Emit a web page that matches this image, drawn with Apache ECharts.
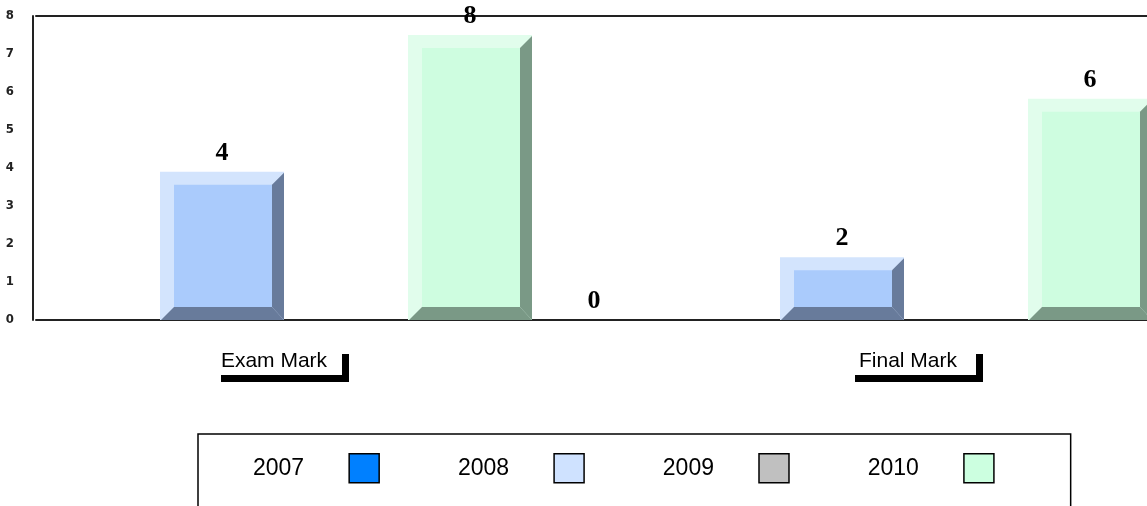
<!DOCTYPE html>
<html><head><meta charset="utf-8">
<script src="https://cdn.jsdelivr.net/npm/echarts@6/dist/echarts.min.js"></script>
<style>html,body{margin:0;padding:0;background:#fff}#c{width:1147px;height:506px}</style>
</head><body><div id="c"></div>
<script>
// ---- data ----
const categories = ['Exam Mark', 'Final Mark'];
const seriesNames = ['2007', '2008', '2009', '2010'];
const v2007 = [null, null];
const v2008 = [3.9, 1.65];
const v2009 = [null, null];
const v2010 = [7.5, 5.82];
const vExtra = [0, 0];          // unnamed fifth slot showing the "0" label
const yTicks = [0, 1, 2, 3, 4, 5, 6, 7, 8];

// ---- styles ----
const legendColors = ['#0080ff', '#cfe2ff', '#c0c0c0', '#ccffe0'];
const bevel = [
  { light: '#80bfff', face: '#0080ff', dark: '#004c99' },
  { light: '#d3e4fd', face: '#aacbfc', dark: '#687b9b' },
  { light: '#e0e0e0', face: '#c0c0c0', dark: '#7a7a7a' },
  { light: '#e1fdec', face: '#cefde0', dark: '#7a9986' }
];
const NSLOTS = 5;

function makeRender(s) {
  return function (params, api) {
    const v = api.value(1);
    if (v === null || v === undefined || isNaN(v)) return;
    const ci = api.value(0);
    const base = api.coord([ci, 0]);
    const band = api.size([1, 0])[0];
    const slot = band / NSLOTS;
    const x0 = base[0] - band / 2 + s * slot, x1 = x0 + slot;
    const yB = base[1], yT = api.coord([ci, v])[1];
    const children = [];
    if (v > 0 && bevel[s]) {
      const c = bevel[s];
      const L = 14, R = 12, T = 13, B = 13;
      children.push({ type: 'rect', shape: { x: x0, y: yT, width: slot, height: yB - yT }, style: { fill: c.light } });
      children.push({ type: 'rect', shape: { x: x0 + L, y: yT + T, width: slot - L - R, height: yB - yT - T - B }, style: { fill: c.face } });
      children.push({ type: 'polygon', shape: { points: [[x1 - R, yT + T], [x1, yT + 1], [x1, yB], [x1 - R, yB - B]] }, style: { fill: c.dark } });
      children.push({ type: 'polygon', shape: { points: [[x0 + L, yB - B], [x1 - R, yB - B], [x1, yB], [x0 + 1, yB]] }, style: { fill: c.dark } });
    }
    children.push({
      type: 'text', z2: 10,
      style: { text: String(Math.round(v)), x: (x0 + x1) / 2, y: yT - 19, align: 'center', verticalAlign: 'middle',
        font: 'bold 26px "Liberation Serif", "Times New Roman", serif', fill: '#000' }
    });
    return { type: 'group', children: children };
  };
}

const allValues = [v2007, v2008, v2009, v2010, vExtra];
const allNames = seriesNames.concat(['extra']);
const series = allValues.map(function (vals, s) {
  return {
    type: 'custom', name: allNames[s], xAxisIndex: 0, yAxisIndex: 0,
    renderItem: makeRender(s),
    itemStyle: { color: legendColors[s] || '#000' },
    data: vals.map(function (v, i) { return [i, v]; }),
    z: 3
  };
});

const labelBox = { fontFamily: 'Liberation Sans, Arial, sans-serif', fontSize: 21, color: '#000', width: 108, align: 'center',
  backgroundColor: '#fff', padding: [4, 14, 3, 6],
  shadowColor: '#000', shadowOffsetX: 7, shadowOffsetY: 7, shadowBlur: 0 };

const chart = echarts.init(document.getElementById('c'), null, { renderer: 'canvas' });
chart.setOption({
  animation: false,
  backgroundColor: '#fff',
  grid: { left: 36, top: 16, width: 1240, height: 304, outerBoundsMode: 'none', containLabel: false },
  xAxis: [{
    type: 'category', data: categories, position: 'bottom',
    axisLine: { show: true, lineStyle: { color: '#222', width: 2 } },
    axisTick: { show: false },
    splitLine: { show: false },
    axisLabel: {
      interval: 0, margin: 27,
      formatter: function (v, i) { return '{b|' + v + '}{s' + i + '| }'; },
      rich: {
        b: labelBox,
        s0: { width: 136, fontSize: 21 },
        s1: { width: 108, fontSize: 21 }
      }
    }
  }, {
    type: 'category', data: categories, position: 'top',
    axisLine: { show: true, lineStyle: { color: '#222', width: 2 } },
    axisTick: { show: false }, axisLabel: { show: false }, splitLine: { show: false }
  }],
  yAxis: {
    type: 'value', min: yTicks[0], max: yTicks[yTicks.length - 1], interval: yTicks[1] - yTicks[0], offset: 3,
    axisLine: { show: true, lineStyle: { color: '#222', width: 2 } },
    axisTick: { show: false }, splitLine: { show: false },
    axisLabel: { margin: 19, fontSize: 13, fontWeight: 'bold', color: '#222',
      fontFamily: '"Liberation Sans Narrow", "DejaVu Sans Condensed", sans-serif' }
  },
  legend: {
    data: seriesNames, left: 198, top: 434, orient: 'horizontal', align: 'right',
    icon: 'rect', itemWidth: 30, itemHeight: 29, itemGap: 78,
    padding: [19, 76, 40, 55], borderColor: '#000', borderWidth: 1.5, backgroundColor: '#fff',
    itemStyle: { borderColor: '#000', borderWidth: 1.5 },
    textStyle: { fontFamily: 'Liberation Sans, Arial, sans-serif', fontSize: 23, color: '#000', padding: [8, 40, 0, 0] },
    selectedMode: false
  },
  series: series
});
</script>
</body></html>
